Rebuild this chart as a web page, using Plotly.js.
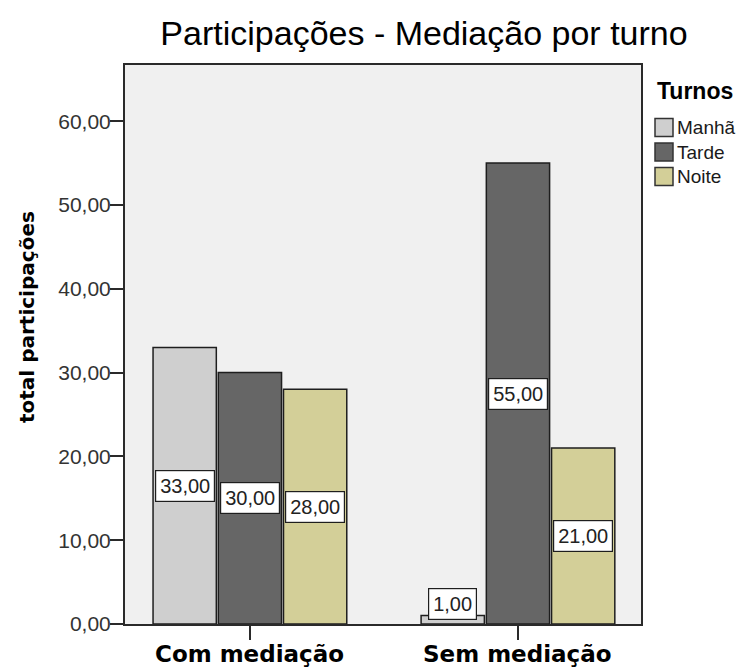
<!DOCTYPE html>
<html>
<head>
<meta charset="utf-8">
<script src="https://cdn.plot.ly/plotly-3.0.1.min.js"></script>
<style>
  html, body { margin: 0; padding: 0; background: #ffffff; }
  #chart { width: 747px; height: 668px; }
</style>
</head>
<body>
<div id="chart"></div>
<script>
// Participações por turno, com e sem mediação
const categories = ['Com mediação', 'Sem mediação'];
const turnos = ['Manhã', 'Tarde', 'Noite'];
const manha = [33, 1];
const tarde = [30, 55];
const noite = [28, 21];
const yTicks = [0, 10, 20, 30, 40, 50, 60];

const seriesValues = [manha, tarde, noite];
const seriesColors = ['#cfcfcf', '#666666', '#d3cf98'];

// plot-area geometry in pixels (used to place the hand-drawn legend and labels)
const W = 747, H = 668;
const M = { l: 125, r: 106, t: 65, b: 44 };
const plotW = W - M.l - M.r;
const plotH = H - M.t - M.b;
const px = x => (x - M.l) / plotW;          // page x -> paper x
const py = y => (H - M.b - y) / plotH;       // page y -> paper y

const BARGAP = 0.27;
const barW = (1 - BARGAP) / turnos.length;

const traces = turnos.map((name, j) => ({
  type: 'bar',
  name: name,
  x: categories,
  y: seriesValues[j],
  marker: { color: seriesColors[j], line: { color: '#1e1e1e', width: 1.5 } },
  hoverinfo: 'none',
  showlegend: false
}));

const fmt = v => v.toFixed(2).replace('.', ',');

// value boxes centred on each bar
const annotations = [];
seriesValues.forEach((vals, j) => {
  vals.forEach((v, i) => {
    const small = v < 4;
    annotations.push({
      xref: 'x', yref: 'y',
      x: i + (j - 1) * barW,
      y: v / 2,
      yanchor: small ? 'bottom' : 'middle',
      text: fmt(v),
      showarrow: false,
      font: { family: 'Liberation Sans, Arial, sans-serif', size: 20, color: '#222222' },
      bgcolor: '#ffffff',
      bordercolor: '#1e1e1e',
      borderwidth: 1.2,
      borderpad: 4
    });
  });
});

// category labels under the ticks
categories.forEach((c, i) => {
  annotations.push({
    xref: 'x', yref: 'paper',
    x: i, y: py(654),
    xanchor: 'center', yanchor: 'middle',
    text: c,
    showarrow: false,
    font: { family: 'DejaVu Sans, sans-serif', size: 23, color: '#000000', weight: 'bold' }
  });
});

// y axis title
annotations.push({
  xref: 'paper', yref: 'paper',
  x: px(27), y: py(317),
  xanchor: 'center', yanchor: 'middle',
  text: 'total participações',
  textangle: -90,
  showarrow: false,
  font: { family: 'DejaVu Sans, sans-serif', size: 20, color: '#000000', weight: 'bold' }
});

// legend
annotations.push({
  xref: 'paper', yref: 'paper',
  x: px(655), y: py(91),
  xanchor: 'left', yanchor: 'middle',
  text: '<b>Turnos</b>',
  showarrow: false,
  font: { family: 'Liberation Sans, Arial, sans-serif', size: 23, color: '#000000' }
});
const shapes = [];
const legendRows = [127.5, 152, 176.5];
turnos.forEach((name, j) => {
  const cy = legendRows[j];
  shapes.push({
    type: 'rect', xref: 'paper', yref: 'paper',
    x0: px(655), x1: px(673), y0: py(cy + 9), y1: py(cy - 9),
    fillcolor: seriesColors[j],
    line: { color: '#333333', width: 1.5 }
  });
  annotations.push({
    xref: 'paper', yref: 'paper',
    x: px(675), y: py(cy),
    xanchor: 'left', yanchor: 'middle',
    text: name,
    showarrow: false,
    font: { family: 'Liberation Sans, Arial, sans-serif', size: 19, color: '#1a1a1a' }
  });
});

const layout = {
  width: W, height: H,
  margin: M,
  paper_bgcolor: '#ffffff',
  plot_bgcolor: '#f0f0f0',
  separators: ',.',
  barmode: 'group',
  bargap: BARGAP,
  bargroupgap: 0.03,
  showlegend: false,
  title: {
    text: 'Participações - Mediação por turno',
    xref: 'paper', x: px(424), xanchor: 'center',
    yref: 'container', y: 1 - 33 / H, yanchor: 'middle',
    font: { family: 'Liberation Sans, Arial, sans-serif', size: 34, color: '#000000' }
  },
  xaxis: {
    type: 'category',
    range: [-0.466, 1.459],
    showline: true, linecolor: '#2a2a2a', linewidth: 2, mirror: true,
    ticks: 'outside', ticklen: 14, tickwidth: 2, tickcolor: '#2a2a2a',
    showticklabels: false,
    showgrid: false, zeroline: false,
    automargin: false
  },
  yaxis: {
    range: [0, 66.7],
    tickvals: yTicks,
    tickformat: '.2f',
    showline: true, linecolor: '#2a2a2a', linewidth: 2, mirror: true,
    ticks: 'outside', ticklen: 13, tickwidth: 2, tickcolor: '#2a2a2a',
    showgrid: false, zeroline: false,
    automargin: false,
    ticklabelstandoff: -5,
    tickfont: { family: 'Liberation Sans, Arial, sans-serif', size: 21, color: '#333333' }
  },
  annotations: annotations,
  shapes: shapes
};

Plotly.newPlot('chart', traces, layout, { staticPlot: true, displayModeBar: false });
</script>
</body>
</html>
